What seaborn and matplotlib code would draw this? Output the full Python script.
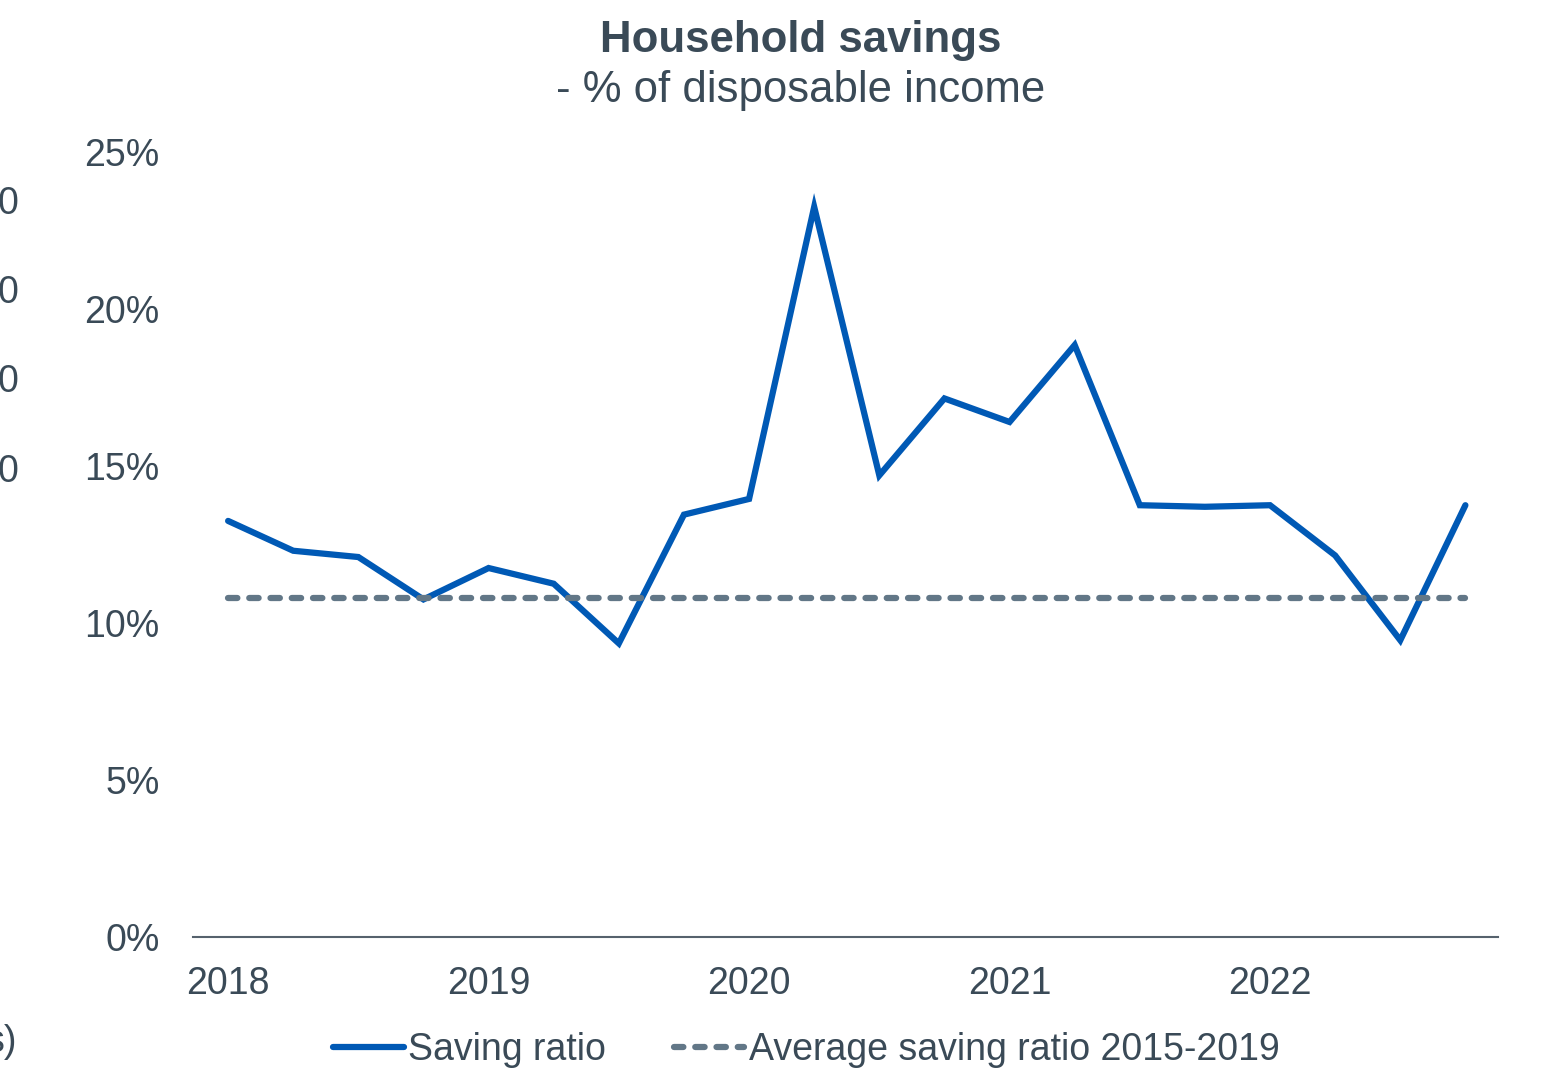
import numpy as np
import pandas as pd
import matplotlib
matplotlib.use("Agg")
import matplotlib.pyplot as plt
import seaborn as sns

# --- data (quarterly, Q1 2018 .. Q4 2022) ---
quarters = list(range(20))
saving_ratio = [13.25, 12.3, 12.1, 10.75, 11.75, 11.25, 9.35, 13.45, 13.95, 23.25,
                14.7, 17.15, 16.4, 18.85, 13.75, 13.7, 13.75, 12.15, 9.45, 13.75]
avg_2015_2019 = 10.8
year_ticks = [0, 4, 8, 12, 16]
year_labels = ["2018", "2019", "2020", "2021", "2022"]
y_ticks = [0, 5, 10, 15, 20, 25]

TEXT = "#3a4a57"
BLUE = "#0059b5"
GREY = "#627787"
LW = 4.5

sns.set_theme(style="white")
plt.rcParams["font.family"] = ["Liberation Sans", "DejaVu Sans"]

df = pd.DataFrame({
    "q": quarters * 2,
    "value": saving_ratio + [avg_2015_2019] * len(quarters),
    "serie": ["Saving ratio"] * len(quarters) + ["Average saving ratio 2015-2019"] * len(quarters),
})

fig = plt.figure(figsize=(15.51, 10.70), dpi=100)
ax = fig.add_axes([0.1244, 0.1243, 0.8414, 0.7337])

sns.lineplot(data=df[df.serie == "Saving ratio"], x="q", y="value", ax=ax,
             color=BLUE, linewidth=LW, label="Saving ratio",
             solid_capstyle="round", solid_joinstyle="miter")
sns.lineplot(data=df[df.serie != "Saving ratio"], x="q", y="value", ax=ax,
             color=GREY, linewidth=LW, label="Average saving ratio 2015-2019",
             dashes=False)
ax.lines[-1].set_dashes((1.5, 1.9))
ax.lines[-1].set_dash_capstyle("round")

ax.set_xlim(-0.54, 19.5)
ax.set_ylim(0, 25)
ax.set_xticks(year_ticks)
ax.set_xticklabels(year_labels)
ax.set_yticks(y_ticks)
ax.set_yticklabels([f"{v}%" for v in y_ticks])
ax.set_xlabel("")
ax.set_ylabel("")
ax.tick_params(axis="both", length=0, labelsize=27, colors=TEXT)
ax.tick_params(axis="y", pad=24)
ax.tick_params(axis="x", pad=21)

for s in ["top", "right", "left"]:
    ax.spines[s].set_visible(False)
ax.spines["bottom"].set_color("#56626d")
ax.spines["bottom"].set_linewidth(1.5)

leg = ax.legend(loc="center", bbox_to_anchor=(0.52, 0.019), bbox_transform=fig.transFigure,
                ncol=2, frameon=False, fontsize=27, labelcolor=TEXT,
                handlelength=1.87, handletextpad=0.13, columnspacing=1.8,
                borderaxespad=0, borderpad=0)
for h in leg.get_lines():
    h.set_linewidth(LW)

fig.text(0.5165, 0.962, "Household savings", ha="center", va="center",
         fontsize=31.5, fontweight="bold", color=TEXT)
fig.text(0.5165, 0.915, "- % of disposable income", ha="center", va="center",
         fontsize=31.5, color=TEXT)

# clipped remnants of a neighbouring chart at the left edge
for yy in [0.809, 0.726, 0.643, 0.559]:
    fig.text(0.012, yy, "0", ha="right", va="center", fontsize=27, color=TEXT)
fig.text(0.011, 0.026, "s)", ha="right", va="center", fontsize=27, color=TEXT)

fig.savefig("out.png", dpi=100)
